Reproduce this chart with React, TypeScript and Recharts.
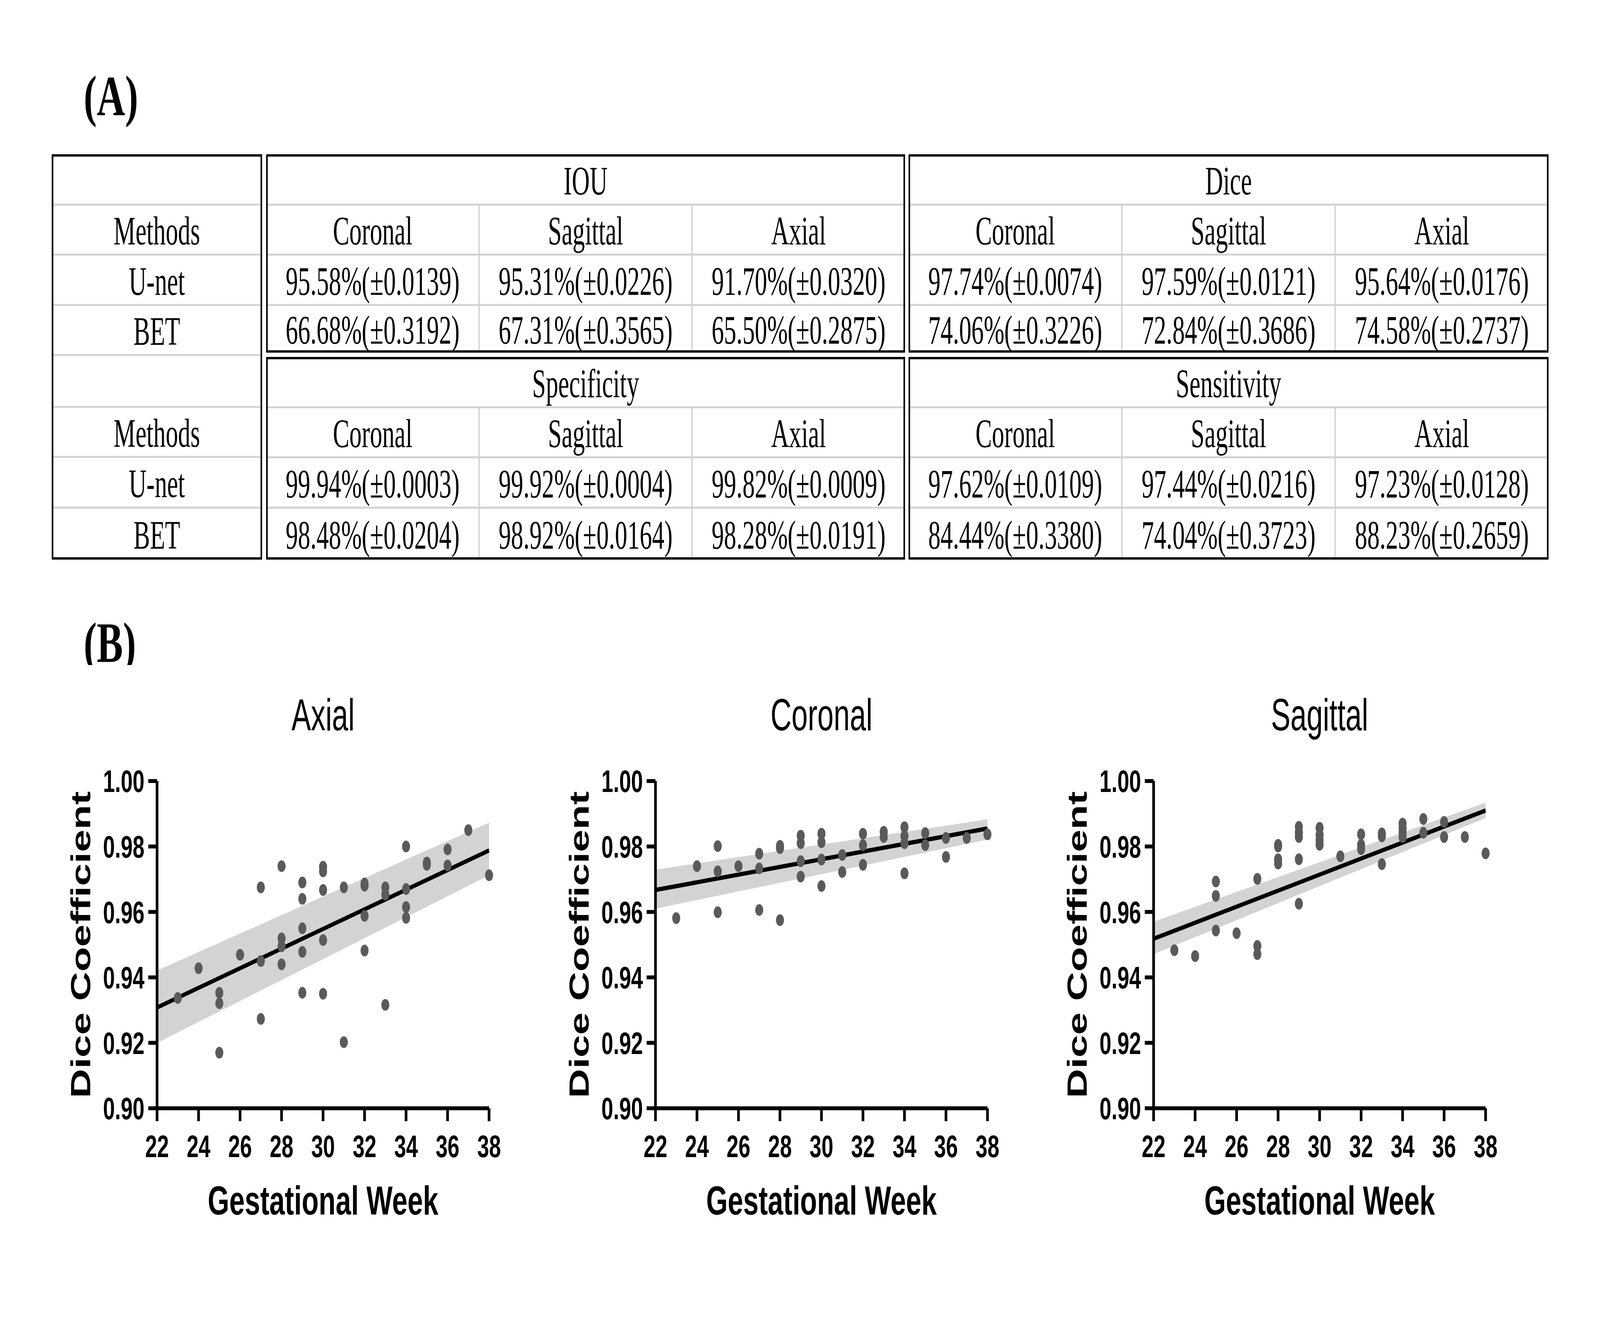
import React from "react";
import { ComposedChart, Scatter, Line, Area, XAxis, YAxis, Label } from "recharts";

const SANS = '"Liberation Sans", Arial, sans-serif';
const SERIF = '"Liberation Serif", "Times New Roman", serif';

// axis ticks
const weekTicks = [22, 24, 26, 28, 30, 32, 34, 36, 38];
const diceTicks = [0.9, 0.92, 0.94, 0.96, 0.98, 1.0];

// Axial panel
const axialWeeks = [23, 24, 25, 25, 25, 26, 27, 27, 27, 28, 28, 28, 28, 29, 29, 29, 29, 29, 30, 30, 30, 30, 30, 31, 31, 32, 32, 32, 32, 33, 33, 33, 34, 34, 34, 34, 35, 35, 36, 36, 37, 38];
const axialDice = [0.9337, 0.9428, 0.9353, 0.9321, 0.917, 0.9469, 0.9675, 0.945, 0.9273, 0.974, 0.9519, 0.9495, 0.944, 0.969, 0.964, 0.955, 0.9478, 0.9353, 0.9738, 0.9724, 0.9667, 0.9514, 0.935, 0.9675, 0.9202, 0.9687, 0.968, 0.9588, 0.9482, 0.9675, 0.9653, 0.9316, 0.98, 0.967, 0.9615, 0.9582, 0.9751, 0.9744, 0.9791, 0.9742, 0.985, 0.9712];

// Coronal panel
const coronalWeeks = [23, 24, 25, 25, 25, 26, 27, 27, 27, 28, 28, 28, 29, 29, 29, 29, 30, 30, 30, 30, 31, 31, 32, 32, 32, 33, 33, 34, 34, 34, 34, 35, 35, 36, 36, 37, 38];
const coronalDice = [0.9581, 0.974, 0.9801, 0.9724, 0.9599, 0.974, 0.9778, 0.9733, 0.9606, 0.9802, 0.9795, 0.9575, 0.9833, 0.981, 0.9755, 0.9708, 0.9839, 0.9813, 0.976, 0.9679, 0.9774, 0.9722, 0.9839, 0.9804, 0.9744, 0.9845, 0.9829, 0.9859, 0.9832, 0.981, 0.9718, 0.9841, 0.9804, 0.9826, 0.9768, 0.9826, 0.9837];

// Sagittal panel
const sagittalWeeks = [23, 24, 25, 25, 25, 26, 27, 27, 27, 28, 28, 28, 28, 29, 29, 29, 29, 29, 30, 30, 30, 30, 31, 32, 32, 32, 33, 33, 33, 34, 34, 34, 34, 35, 35, 36, 36, 37, 38];
const sagittalDice = [0.9483, 0.9465, 0.9693, 0.9649, 0.9543, 0.9535, 0.9701, 0.9496, 0.9471, 0.9805, 0.98, 0.9761, 0.9748, 0.986, 0.9842, 0.9829, 0.9761, 0.9625, 0.9857, 0.9835, 0.982, 0.9805, 0.977, 0.9837, 0.9805, 0.9792, 0.984, 0.9831, 0.9746, 0.987, 0.9855, 0.9842, 0.9829, 0.9884, 0.9842, 0.9875, 0.9829, 0.9829, 0.9779];

// regression line and confidence band at both ends
const fitWeeks = [22, 38];
const axialFit = [0.9308, 0.9788];
const axialLow = [0.92, 0.9712];
const axialHigh = [0.9421, 0.9873];
const coronalFit = [0.9667, 0.9855];
const coronalLow = [0.961, 0.9821];
const coronalHigh = [0.9729, 0.9883];
const sagittalFit = [0.9518, 0.991];
const sagittalLow = [0.9471, 0.9887];
const sagittalHigh = [0.957, 0.9934];

// table (A)
const views = ["Coronal", "Sagittal", "Axial"];
const methods = ["U-net", "BET"];
const iouValues = [
  ["95.58%(±0.0139)", "95.31%(±0.0226)", "91.70%(±0.0320)"],
  ["66.68%(±0.3192)", "67.31%(±0.3565)", "65.50%(±0.2875)"],
];
const diceValues = [
  ["97.74%(±0.0074)", "97.59%(±0.0121)", "95.64%(±0.0176)"],
  ["74.06%(±0.3226)", "72.84%(±0.3686)", "74.58%(±0.2737)"],
];
const specificityValues = [
  ["99.94%(±0.0003)", "99.92%(±0.0004)", "99.82%(±0.0009)"],
  ["98.48%(±0.0204)", "98.92%(±0.0164)", "98.28%(±0.0191)"],
];
const sensitivityValues = [
  ["97.62%(±0.0109)", "97.44%(±0.0216)", "97.23%(±0.0128)"],
  ["84.44%(±0.3380)", "74.04%(±0.3723)", "88.23%(±0.2659)"],
];

const GREY = "#d2d2d2";
const DOT = "#5a5a5a";

const PAGE_W = 6000;
const PAGE_H = 3375;
const PLOT_W = 1245;
const PLOT_H = 838;
const PLOT_TOP = 2000;
const Y_AXIS_W = 340;
const X_AXIS_H = 330;
const M_TOP = 60;
const M_RIGHT = 60;
const M_LEFT = 40;

const CellText = ({ x, y, children }: { x: number; y: number; children: React.ReactNode }) => (
  <text transform={`translate(${x} ${y}) scale(0.89 1)`} textAnchor="middle" fontFamily={SERIF} fontSize={104} fill="#000">
    {children}
  </text>
);

const blockRows = (top: number, bottom: number) => [top, top + 129, top + 257, top + 386, bottom];

const MetricBlock = ({ x1, x2, top, bottom, title, values }: any) => {
  const rows = blockRows(top, bottom);
  const w = x2 - x1;
  const colX = [x1, x1 + w / 3, x1 + (2 * w) / 3, x2];
  const mid = (i: number) => (rows[i] + rows[i + 1]) / 2 + 38;
  return (
    <g>
      {rows.slice(1, 4).map((y, i) => (
        <line key={`h${i}`} x1={x1 + 6} x2={x2 - 6} y1={y} y2={y} stroke={GREY} strokeWidth={5} />
      ))}
      {[1, 2].map((c) => (
        <line key={`v${c}`} x1={colX[c]} x2={colX[c]} y1={rows[1]} y2={bottom - 6} stroke={GREY} strokeWidth={5} />
      ))}
      <rect x={x1 + 3} y={top + 3} width={w - 6} height={bottom - top - 6} fill="none" stroke="#000" strokeWidth={6} />
      <CellText x={(x1 + x2) / 2} y={mid(0)}>{title}</CellText>
      {views.map((v, c) => (
        <CellText key={v} x={(colX[c] + colX[c + 1]) / 2} y={mid(1)}>{v}</CellText>
      ))}
      {values.map((row: string[], r: number) =>
        row.map((val, c) => (
          <CellText key={`${r}-${c}`} x={(colX[c] + colX[c + 1]) / 2} y={mid(2 + r)}>{val}</CellText>
        ))
      )}
    </g>
  );
};

const MethodsBlock = () => {
  const lines = [524, 652, 781, 909, 1042, 1170, 1300];
  const bounds = [395, ...lines, 1433];
  const labels = ["", "Methods", ...methods, "", "Methods", ...methods];
  return (
    <g>
      {lines.map((y) => (
        <line key={y} x1={200} x2={977} y1={y} y2={y} stroke={GREY} strokeWidth={5} />
      ))}
      <rect x={197} y={398} width={783} height={1032} fill="none" stroke="#000" strokeWidth={6} />
      {labels.map((t, i) =>
        t ? (
          <CellText key={i} x={588} y={(bounds[i] + bounds[i + 1]) / 2 + 38}>{t}</CellText>
        ) : null
      )}
    </g>
  );
};

const renderXLabel = (props: any) => {
  const vb = props.viewBox;
  return (
    <text x={vb.x + vb.width / 2} y={vb.y + 272} textAnchor="middle" fontFamily={SANS} fontWeight={700} fontSize={104} fill="#000">
      Gestational Week
    </text>
  );
};

const renderYLabel = (props: any) => {
  const vb = props.viewBox;
  const cx = vb.x + vb.width - 287;
  const cy = vb.y + vb.height / 2;
  return (
    <text x={cx} y={cy} transform={`rotate(-90 ${cx} ${cy})`} textAnchor="middle" dominantBaseline="central" fontFamily={SANS} fontWeight={700} fontSize={104} fill="#000">
      Dice Coefficient
    </text>
  );
};

const DicePanel = ({ left, weeks, dice, fit, low, high }: any) => {
  const points = weeks.map((w: number, i: number) => ({ x: w, y: dice[i] }));
  const band = fitWeeks.map((w, i) => ({ x: w, range: [low[i], high[i]], fit: fit[i] }));
  const axisStyle = { stroke: "#000", strokeWidth: 10 };
  const tickStyle = { fill: "#000", fontSize: 80, fontWeight: 700, fontFamily: SANS };
  return (
    <div style={{ position: "absolute", left: left - Y_AXIS_W - M_LEFT, top: PLOT_TOP - M_TOP }}>
      <ComposedChart
        width={M_LEFT + Y_AXIS_W + PLOT_W + M_RIGHT}
        height={M_TOP + PLOT_H + X_AXIS_H}
        data={band}
        margin={{ top: M_TOP, right: M_RIGHT, left: M_LEFT, bottom: 0 }}
      >
        <XAxis
          type="number"
          dataKey="x"
          domain={[22, 38]}
          ticks={weekTicks}
          interval={0}
          height={X_AXIS_H}
          tickSize={33}
          tickMargin={35}
          axisLine={axisStyle}
          tickLine={axisStyle}
          tick={tickStyle}
          label={<Label content={renderXLabel} />}
        />
        <YAxis
          type="number"
          domain={[0.9, 1.0]}
          ticks={diceTicks}
          interval={0}
          width={Y_AXIS_W}
          tickSize={33}
          tickMargin={14}
          tickFormatter={(v: number) => v.toFixed(2)}
          axisLine={axisStyle}
          tickLine={axisStyle}
          tick={tickStyle}
          label={<Label content={renderYLabel} />}
        />
        <Area dataKey="range" type="linear" stroke="none" fill="#d3d3d3" fillOpacity={1} isAnimationActive={false} />
        <Line dataKey="fit" type="linear" stroke="#000" strokeWidth={11} dot={false} activeDot={false} isAnimationActive={false} />
        <Scatter
          data={points}
          dataKey="y"
          fill={DOT}
          isAnimationActive={false}
          shape={(p: any) => <circle cx={p.cx} cy={p.cy} r={15} fill={DOT} />}
        />
      </ComposedChart>
    </div>
  );
};

const panels = [
  { title: "Axial", left: 589, weeks: axialWeeks, dice: axialDice, fit: axialFit, low: axialLow, high: axialHigh },
  { title: "Coronal", left: 2458, weeks: coronalWeeks, dice: coronalDice, fit: coronalFit, low: coronalLow, high: coronalHigh },
  { title: "Sagittal", left: 4326, weeks: sagittalWeeks, dice: sagittalDice, fit: sagittalFit, low: sagittalLow, high: sagittalHigh },
];

export default function App() {
  // map the 6000x3375 layout onto whatever CSS viewport the page actually gets
  const vw = typeof window !== "undefined" ? window.innerWidth : PAGE_W;
  const vh = typeof window !== "undefined" ? window.innerHeight : PAGE_H;
  const sx = Math.min(1, vw / PAGE_W);
  const sy = Math.min(1, vh / PAGE_H);
  return (
    <div style={{ position: "absolute", left: 0, top: 0, width: PAGE_W * sx, height: PAGE_H * sy, overflow: "hidden", background: "#fff" }}>
      <div style={{ position: "absolute", left: 0, top: 0, width: PAGE_W, height: PAGE_H, transform: `scale(${sx}, ${sy})`, transformOrigin: "0 0" }}>
        <svg width={PAGE_W} height={PAGE_H} style={{ position: "absolute", left: 0, top: 0 }}>
          <defs>
            <clipPath id="clipB">
              <rect x={0} y={1500} width={1000} height={203} />
            </clipPath>
          </defs>
          <text x={314} y={295} fontFamily={SERIF} fontWeight={700} fontSize={147} fill="#000">(A)</text>
          <text x={314} y={1695} fontFamily={SERIF} fontWeight={700} fontSize={147} fill="#000" clipPath="url(#clipB)">(B)</text>

          <MethodsBlock />
          <MetricBlock x1={998} x2={3394} top={395} bottom={903} title="IOU" values={iouValues} />
          <MetricBlock x1={3407} x2={5807} top={395} bottom={903} title="Dice" values={diceValues} />
          <MetricBlock x1={998} x2={3394} top={914} bottom={1433} title="Specificity" values={specificityValues} />
          <MetricBlock x1={3407} x2={5807} top={914} bottom={1433} title="Sensitivity" values={sensitivityValues} />

          {panels.map((p) => (
            <text key={p.title} transform={`translate(${p.left + PLOT_W / 2} 1870) scale(0.95 1)`} textAnchor="middle" fontFamily={SANS} fontSize={115} fill="#000">
              {p.title}
            </text>
          ))}
        </svg>
        {panels.map((p) => (
          <DicePanel key={p.title} left={p.left} weeks={p.weeks} dice={p.dice} fit={p.fit} low={p.low} high={p.high} />
        ))}
      </div>
    </div>
  );
}
